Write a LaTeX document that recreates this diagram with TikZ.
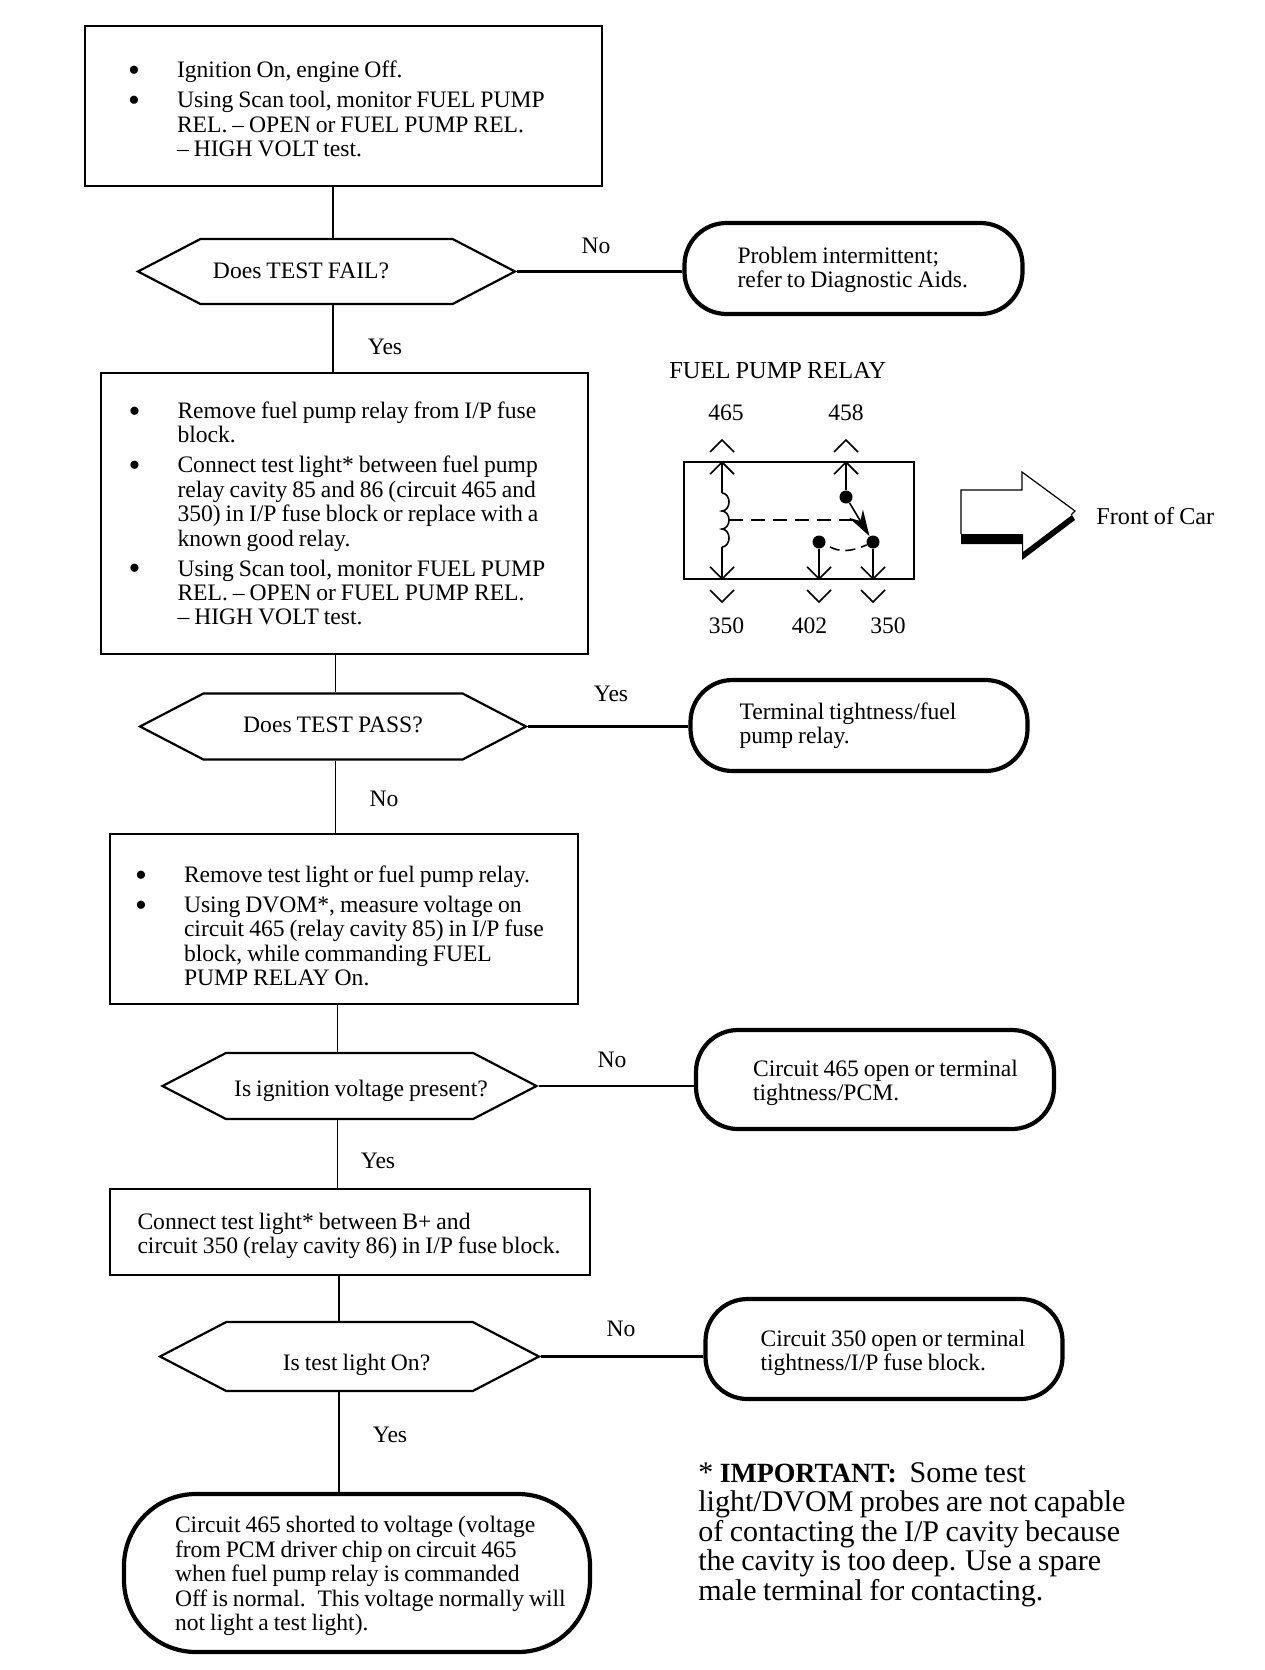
\documentclass[tikz,border=0pt]{standalone}
\usepackage{fontspec}
\setmainfont{Liberation Serif}[WordSpace=0.85]
\usetikzlibrary{
    positioning,
    arrows.meta,
    shapes.misc,
    shapes.symbols
}
\newcommand{\itm}{\makebox[24.5pt][l]{\fontsize{17}{12}\selectfont\raisebox{-.25ex}{\textbullet}}}
\newcommand{\cnt}{\hspace*{24.5pt}}
\newcommand{\hexlabel}[3]{\smash{\makebox[0pt]{\raisebox{#2}{\hspace*{#1}#3}}}}
\tikzset{
    tightwords/.style={execute at begin node={\spaceskip=.21em\relax}},
    infobox/.style={draw, line width=1.2pt, rectangle, align=left, inner ysep=0pt, tightwords},
    testhex/.style={draw, line width=1.1pt, signal, signal to=west and east, signal pointer angle=55, inner sep=0pt},
    endcap/.style={draw, line width=2.1pt, rectangle, rounded corners=21pt, align=left, inner ysep=0pt, tightwords},
    answer/.style={inner sep=0pt},
    pinlabel/.style={inner sep=0pt},
    stem/.style={line width=.9pt},
    branch/.style={line width=1.1pt},
    wire/.style={line width=.8pt},
    contact/.style={circle, fill=black, inner sep=0pt, minimum size=6.5pt}
}

\begin{document}
\begin{tikzpicture}[
            x=.5pt,
            y=-.5pt,
            >=Stealth,
            font=\fontsize{11.8}{12.2}\selectfont,
        ]
        \useasboundingbox (0,0) rectangle (1264,1670);

        % Stem columns
        \coordinate (stemA) at (333,0);
        \coordinate (stemB) at (335.5,0);
        \coordinate (stemC) at (337.5,0);
        \coordinate (stemD) at (339,0);

        % Action boxes
        \node[infobox, minimum width=258.5pt, minimum height=80pt, text width=215.5pt, inner xsep=21.5pt] (boxA) at (343.5,106) {%
            \rule{0pt}{11.2pt}\itm Ignition On, engine Off.\\[2.8pt]
            \itm \mbox{Using Scan tool, monitor FUEL PUMP}\\
            \cnt \mbox{REL. – OPEN or FUEL PUMP REL.}\\
            \cnt – HIGH VOLT test.};
        \node[infobox, minimum width=243.5pt, minimum height=140.5pt, text width=216pt, inner xsep=13.75pt] (boxB) at (344.5,513.5) {%
            \itm \mbox{Remove fuel pump relay from I/P fuse}\\
            \cnt block.\\[2.8pt]
            \itm \mbox{Connect test light* between fuel pump}\\
            \cnt \mbox{relay cavity 85 and 86 (circuit 465 and}\\
            \cnt \mbox{350) in I/P fuse block or replace with a}\\
            \cnt known good relay.\\[2.8pt]
            \itm \mbox{Using Scan tool, monitor FUEL PUMP}\\
            \cnt \mbox{REL. – OPEN or FUEL PUMP REL.}\\
            \cnt – HIGH VOLT test.};
        \node[infobox, minimum width=234pt, minimum height=85pt, text width=209pt, inner xsep=12.5pt] (boxC) at (344,919) {%
            \rule{0pt}{15pt}\itm \mbox{Remove test light or fuel pump relay.}\\[2.8pt]
            \itm Using DVOM*, measure voltage on\\
            \cnt \mbox{circuit 465 (relay cavity 85) in I/P fuse}\\
            \cnt block, while commanding FUEL\\
            \cnt PUMP RELAY On.};
        \node[infobox, minimum width=240pt, minimum height=43pt, text width=212.5pt, inner xsep=13.75pt] (boxD) at (350,1232) {%
            \rule{0pt}{12.2pt}Connect test light* between B+ and\\
            \mbox{circuit 350 (relay cavity 86) in I/P fuse block.}};

        % Decision hexagons
        \node[testhex, minimum width=188.5pt, minimum height=32.5pt] (hexA) at (326.5,271.5) {\hexlabel{-25.5pt}{-3.7pt}{Does TEST FAIL?}};
        \node[testhex, minimum width=193pt, minimum height=33pt] (hexB) at (333,726.5) {\hexlabel{0pt}{-3.2pt}{Does TEST PASS?}};
        \node[testhex, minimum width=187pt, minimum height=33pt] (hexC) at (349.5,1086) {\hexlabel{11.5pt}{-5.3pt}{Is ignition voltage present?}};
        \node[testhex, minimum width=189.5pt, minimum height=34.5pt] (hexD) at (349.5,1356.5) {\hexlabel{7pt}{-7pt}{Is test light On?}};

        % Result capsules
        \node[endcap, minimum width=169pt, minimum height=45.5pt, text width=116pt, inner xsep=26.5pt] (endA) at (853.5,268.5) {%
            \rule{0pt}{9.6pt}Problem intermittent;\\
            \mbox{refer to Diagnostic Aids.}};
        \node[endcap, minimum width=168.5pt, minimum height=45.5pt, text width=119.5pt, inner xsep=24.5pt] (endB) at (859,725.5) {%
            Terminal tightness/fuel\\
            pump relay.};
        \node[endcap, minimum width=179pt, minimum height=49.5pt, text width=122pt, inner xsep=28.5pt] (endC) at (875,1079.5) {%
            \rule{0pt}{11.8pt}\mbox{Circuit 465 open or terminal}\\
            tightness/PCM.};
        \node[endcap, minimum width=178.5pt, minimum height=50pt, text width=123.5pt, inner xsep=27.5pt] (endD) at (884,1349) {%
            \rule{0pt}{11.8pt}\mbox{Circuit 350 open or terminal}\\
            tightness/I/P fuse block.};
        \node[endcap, rounded corners=36pt, minimum width=233pt, minimum height=79pt, text width=182pt, inner xsep=25.5pt] (endE) at (357,1573) {%
            \rule{0pt}{11.2pt}\mbox{Circuit 465 shorted to voltage (voltage}\\
            from PCM driver chip on circuit 465\\
            when fuel pump relay is commanded\\
            \mbox{Off is normal. This voltage normally will}\\
            not light a test light).};

        % Main flow
        \draw[stem] (boxA.south -| stemA) -- (hexA.north -| stemA);
        \draw[stem] (hexA.south -| stemA) -- (boxB.north -| stemA);
        \draw[stem] (boxB.south -| stemB) -- (hexB.north -| stemB);
        \draw[stem] (hexB.south -| stemB) -- (boxC.north -| stemB);
        \draw[stem] (boxC.south -| stemC) -- (hexC.north -| stemC);
        \draw[stem] (hexC.south -| stemC) -- (boxD.north -| stemC);
        \draw[stem] (boxD.south -| stemD) -- (hexD.north -| stemD);
        \draw[stem] (hexD.south -| stemD) -- (endE.north -| stemD);

        % Branches to the right
        \draw[branch] (hexA.east) -- (hexA.east -| endA.west);
        \draw[branch] (hexB.east) -- (hexB.east -| endB.west);
        \draw[branch] (hexC.east) -- (hexC.east -| endC.west);
        \draw[branch] (hexD.east) -- (hexD.east -| endD.west);

        % Yes and No
        \node[answer] (ansA) at (596,246) {No};
        \node[answer] (ansB) at (385,347) {Yes};
        \node[answer] (ansC) at (611,694) {Yes};
        \node[answer] (ansD) at (384,799) {No};
        \node[answer] (ansE) at (612,1060) {No};
        \node[answer] (ansF) at (378,1161) {Yes};
        \node[answer] (ansG) at (621,1329) {No};
        \node[answer] (ansH) at (390,1435) {Yes};

        % Relay
        \node[pinlabel, anchor=west, font=\fontsize{12.2}{13}\selectfont] (relayTitle) at (669,371) {FUEL PUMP RELAY};
        \node[draw, line width=1pt, minimum width=115pt, minimum height=58.5pt, inner sep=0pt] (relay) at (799,520.5) {};
        \node[pinlabel] (pinA) at (726,413) {465};
        \node[pinlabel] (pinB) at (846,413) {458};
        \node[pinlabel] (pinC) at (726.5,626) {350};
        \node[pinlabel] (pinD) at (809.5,626) {402};
        \node[pinlabel] (pinE) at (888,626) {350};

        \coordinate (coilTop) at (722,493);
        \node[contact] (armTop) at (846,497) {};
        \node[contact] (armEnd) at (873,542) {};
        \node[contact] (armRest) at (819,542) {};

        % Relay wires
        \draw[wire, -{Straight Barb[length=6pt,width=12pt]}] (coilTop) -- (coilTop |- relay.north);
        \draw[wire] (coilTop) arc[start angle=90, end angle=-90, x radius=3.5pt, y radius=4.5pt]
            arc[start angle=90, end angle=-90, x radius=3.5pt, y radius=4.5pt]
            arc[start angle=90, end angle=-90, x radius=3.5pt, y radius=4.5pt] coordinate (coilEnd);
        \draw[wire, -{Straight Barb[length=6pt,width=12pt]}] (coilEnd) -- (coilEnd |- relay.south);
        \draw[wire, -{Straight Barb[length=6pt,width=12pt]}] (armTop) -- (armTop |- relay.north);
        \draw[wire, -{Straight Barb[length=6pt,width=12pt]}] (armRest) -- (armRest |- relay.south);
        \draw[wire, -{Straight Barb[length=6pt,width=12pt]}] (armEnd) -- (armEnd |- relay.south);
        \draw[wire, -{Stealth[length=13pt,width=8pt]}] (armTop) -- (armEnd);
        \draw[wire, dash pattern=on 7pt off 4pt] (729,520) -- (860,520);
        \draw[wire, dash pattern=on 5pt off 3pt] (armRest) ++(11,5) .. controls (840,552) and (851,552) .. ([xshift=-5pt,yshift=-2.5pt]armEnd);

        % Chevrons outside the relay
        \foreach \x in {722,846} {
            \draw[wire] (\x-12,452) -- (\x,440) -- (\x+12,452);
        }
        \foreach \x in {722,819,873} {
            \draw[wire] (\x-12,590) -- (\x,602) -- (\x+12,590);
        }

        % Direction arrow
        \draw[line width=.6pt] (961,534) -- (961,490) -- (1022,490) -- (1022,472) -- (1075,511) -- (1071,515);
        \fill (961,534) -- (1023,534) -- (1023,552) -- (1072,515) -- (1075,520) -- (1022,560) -- (1022,544) -- (961,544) -- cycle;
        \node[pinlabel, anchor=west, font=\fontsize{12.1}{13}\selectfont] (frontLabel) at (1096,516) {Front of Car};

        % Note
        \node[inner sep=0pt, anchor=north west, align=left, font=\fontsize{15}{14.75}\selectfont] (note) at (698,1462) {%
            * \textbf{\fontsize{13.9}{14.75}\selectfont IMPORTANT:} \ Some test\\
            light/DVOM probes are not capable\\
            of contacting the I/P cavity because\\
            the cavity is too deep. Use a spare\\
            male terminal for contacting.};
\end{tikzpicture}
\end{document}
